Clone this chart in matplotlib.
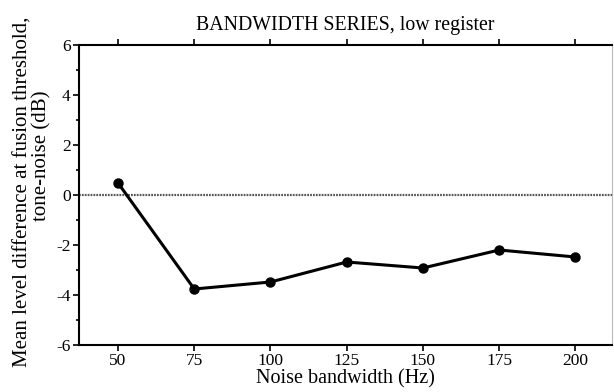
import matplotlib
matplotlib.use("Agg")
import matplotlib.pyplot as plt
from matplotlib.ticker import MultipleLocator

bandwidth = [50, 75, 100, 125, 150, 175, 200]
level_diff = [0.48, -3.76, -3.48, -2.68, -2.92, -2.2, -2.48]
xticks = [50, 75, 100, 125, 150, 175, 200]
yticks = [-6, -4, -2, 0, 2, 4, 6]

plt.rcParams['font.family'] = ['Liberation Serif', 'DejaVu Serif']
fig = plt.figure(figsize=(6.14, 3.92), dpi=100)
ax = fig.add_axes([0.1287, 0.1199, 0.868, 0.7653])

ax.axhline(0, color='#555555', lw=1.6, ls=(0, (0.8, 0.5)), zorder=1)
ax.plot(bandwidth, level_diff, color='black', lw=2.2, marker='o', ms=6.5, zorder=3)

ax.set_xlim(37.2, 212)
ax.set_ylim(-6, 6)
ax.set_xticks(xticks)
ax.set_yticks(yticks)
ax.set_yticklabels([str(v) for v in yticks], fontsize=12.5)
ax.set_xticklabels([str(v) for v in xticks], fontsize=12.5)
ax.yaxis.set_minor_locator(MultipleLocator(1))
ax.tick_params(axis='both', which='major', direction='out', length=4, width=1.2, pad=2)
ax.tick_params(axis='y', which='minor', direction='out', length=2.5, width=1.2)
ax.tick_params(axis='x', top=True, bottom=True)

for s in ['left', 'bottom', 'top']:
    ax.spines[s].set_linewidth(1.5)
ax.spines['right'].set_color('#bbbbbb')
ax.spines['right'].set_linewidth(0.8)

ax.set_title('BANDWIDTH SERIES, low register', fontsize=14.3, pad=11)
ax.set_xlabel('Noise bandwidth (Hz)', fontsize=14.5, labelpad=0)
ax.set_ylabel('Mean level difference at fusion threshold,', fontsize=15)
ax.yaxis.set_label_coords(-0.088, 0.51)
ax.text(-0.052, 0.63, 'tone-noise (dB)', transform=ax.transAxes, rotation=90,
        ha='center', va='bottom', rotation_mode='anchor', fontsize=15)

fig.savefig('out.png', dpi=100)
